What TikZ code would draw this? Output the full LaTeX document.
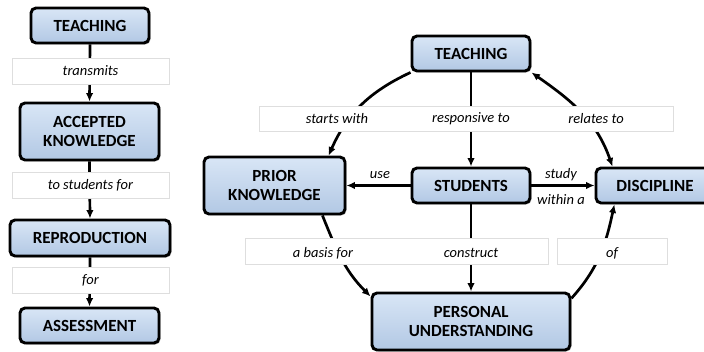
\documentclass[tikz,border=0pt]{standalone}
\usepackage{fontspec}
\setmainfont{Carlito}
\usepackage{color}
\definecolor{myblue}{RGB}{200,219,242}
\definecolor{mydarkblue}{RGB}{178,200,228}
\definecolor{mygray}{RGB}{222,222,222}
\usetikzlibrary{arrows.meta,shadows,positioning}

\begin{document}
\begin{tikzpicture}[
  x=1pt, y=1pt,
  mybox/.style={
    draw,
    line width=2.9pt,
    rounded corners=5pt,
    top color=myblue!70!white,
    bottom color=mydarkblue,
    drop shadow={shadow xshift=1.5pt, shadow yshift=-1.5pt, fill=black!55},
    align=center,
    inner sep=2pt,
    font=\fontsize{17}{19.5}\selectfont\bfseries
    },
  myband/.style={
    draw=mygray,
    line width=0.6pt,
    fill=white,
    inner sep=0pt
    },
  mytext/.style={
    inner sep=1pt,
    font=\fontsize{14.5}{17}\selectfont\itshape
    },
  myarrow/.style={
    line width=2.7pt,
    -{Latex[length=8.5pt,width=7.5pt]}
    }
]
\useasboundingbox (0,0) rectangle (704,351);

% transmission model
\node [mybox, minimum width=118, minimum height=35] (lteach) at (90,325.5) {TEACHING};
\node [mybox, minimum width=139, minimum height=57] (laccept) at (89.5,219.5) {ACCEPTED\\KNOWLEDGE};
\node [mybox, minimum width=160, minimum height=36] (lrepro) at (90,113) {REPRODUCTION};
\node [mybox, minimum width=139, minimum height=35] (lassess) at (89.5,25.5) {ASSESSMENT};

\draw [myarrow] (lteach.south) -- (laccept.north);
\draw [myarrow] (laccept.south) -- (lrepro.north);
\draw [myarrow] (lrepro.south) -- (lassess.north);

\node [myband, minimum width=157, minimum height=26] (lband1) at (90.5,280) {};
\node [myband, minimum width=157, minimum height=26] (lband2) at (90.5,165.5) {};
\node [myband, minimum width=157, minimum height=26] (lband3) at (90.5,71) {};
\node [mytext] (ltransmits) at (lband1) {transmits};
\node [mytext] (lforstudents) at (lband2) {to students for};
\node [mytext] (lfor) at (lband3) {for};

% constructivist model
\node [mybox, minimum width=118, minimum height=35] (rteach) at (471,297.5) {TEACHING};
\node [mybox, minimum width=141, minimum height=57] (prior) at (274.5,165.5) {PRIOR\\KNOWLEDGE};
\node [mybox, minimum width=118, minimum height=35] (students) at (471,165.5) {STUDENTS};
\node [mybox, minimum width=118, minimum height=35] (disc) at (655,165.5) {DISCIPLINE};
\node [mybox, minimum width=198, minimum height=57] (personal) at (471,29.5) {PERSONAL\\UNDERSTANDING};

\draw [myarrow] (rteach.south) -- (students.north);
\draw [myarrow] (students.west) -- (prior.east);
\draw [myarrow] (students.east) -- (disc.west);
\draw [myarrow] (students.south) -- (personal.north);
\draw [myarrow] (rteach.south west) to[out=205, in=66] (prior.29);
\draw [myarrow, {Latex[length=8.5pt,width=7.5pt]}-{Latex[length=8.5pt,width=7.5pt]}]
  (rteach.south east) to[out=-35, in=109] (disc.156);
\draw [myarrow] (prior.-32) to[out=-68, in=135] (personal.166);
\draw [myarrow] (personal.13) to[out=48, in=-102] (disc.205);

\node [myband, minimum width=414, minimum height=25] (rband1) at (466,232.5) {};
\node [myband, minimum width=303, minimum height=26] (rband2) at (396.5,100) {};
\node [myband, minimum width=110, minimum height=26] (rband3) at (612,100) {};

\node [mytext] (startswith) at (337,232.5) {starts with};
\node [mytext] (responsive) at (471,232.5) {responsive to};
\node [mytext] (relates) at (596,232.5) {relates to};
\node [mytext] (use) at (380,176) {use};
\node [mytext] (study) at (561,176) {study};
\node [mytext] (within) at (561,151) {within a};
\node [mytext] (basis) at (323,98) {a basis for};
\node [mytext] (construct) at (471,98) {construct};
\node [mytext] (of) at (612,98) {of};

\end{tikzpicture}
\end{document}
